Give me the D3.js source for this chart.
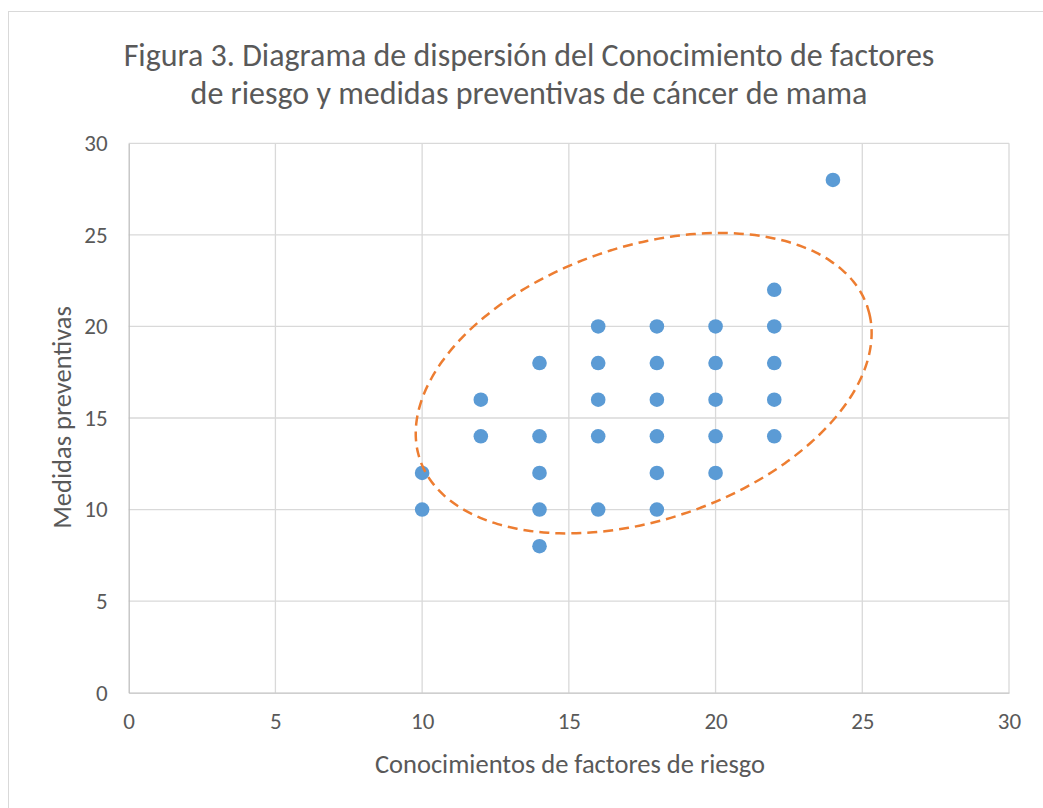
<!DOCTYPE html>
<html lang="es">
<head>
  <meta charset="UTF-8">
  <title>Figura 3. Diagrama de dispersión</title>
  <style>body{margin:0;padding:0;background:#fff;} svg{display:block;}</style>
  <script src="https://d3js.org/d3.v7.min.js"></script>
</head>
<body>
  <div id="chart"></div>
  <script>
    // puntos: conocimiento de factores de riesgo (x) vs medidas preventivas (y)
    const conocimiento = [10, 10, 12, 12, 14, 14, 14, 14, 14, 16, 16, 16, 16, 16,
      18, 18, 18, 18, 18, 18, 20, 20, 20, 20, 20, 22, 22, 22, 22, 22, 24];
    const medidas = [12, 10, 16, 14, 18, 14, 12, 10, 8, 20, 18, 16, 14, 10,
      20, 18, 16, 14, 12, 10, 20, 18, 16, 14, 12, 22, 20, 18, 16, 14, 28];
    const xTicks = [0, 5, 10, 15, 20, 25, 30];
    const yTicks = [0, 5, 10, 15, 20, 25, 30];
    const titleLines = ["Figura 3. Diagrama de dispersión del Conocimiento de factores",
      "de riesgo y medidas preventivas de cáncer de mama"];
    const xLabel = "Conocimientos de factores de riesgo";
    const yLabel = "Medidas preventivas";
    // elipse resaltada: centro y semidiámetros conjugados, en unidades de datos
    const elipseCentro = [17.55, 16.9];
    const elipseEjeU = [7.62, 4.19];
    const elipseEjeV = [1.51, -7.05];

    const width = 1043, height = 808;
    const font = "Carlito, Calibri, Lato, sans-serif";
    const textColor = "#595959";

    const svg = d3.select("#chart").append("svg")
      .attr("width", width)
      .attr("height", height);

    // chart border
    svg.append("rect")
      .attr("x", 8.5).attr("y", 11.5)
      .attr("width", 1100).attr("height", 900)
      .attr("fill", "#fff")
      .attr("stroke", "#d9d9d9");

    const x = d3.scaleLinear().domain([0, 30]).range([128.7, 1009]);
    const y = d3.scaleLinear().domain([0, 30]).range([692.7, 143.3]);

    // gridlines
    svg.append("g")
      .selectAll("line.vx")
      .data(xTicks.filter(d => d > 0))
      .join("line")
      .attr("x1", d => x(d)).attr("x2", d => x(d))
      .attr("y1", y(0)).attr("y2", y(30))
      .attr("stroke", "#d9d9d9").attr("stroke-width", 1.3);
    svg.append("g")
      .selectAll("line.hy")
      .data(yTicks.filter(d => d > 0))
      .join("line")
      .attr("x1", x(0)).attr("x2", x(30))
      .attr("y1", d => y(d)).attr("y2", d => y(d))
      .attr("stroke", "#d9d9d9").attr("stroke-width", 1.3);

    // axes
    const xAxis = svg.append("g")
      .attr("transform", `translate(0,${y(0)})`)
      .call(d3.axisBottom(x).tickValues(xTicks).tickSize(0).tickPadding(22));
    const yAxis = svg.append("g")
      .attr("transform", `translate(${x(0)},0)`)
      .call(d3.axisLeft(y).tickValues(yTicks).tickSize(0).tickPadding(21));
    [xAxis, yAxis].forEach(g => {
      g.select(".domain").attr("stroke", "#bfbfbf").attr("stroke-width", 1.3);
      g.selectAll("text")
        .attr("fill", textColor)
        .style("font-family", font)
        .style("font-size", "23px");
    });
    xAxis.selectAll("text").attr("dy", "0.62em");

    // title
    svg.append("g")
      .selectAll("text")
      .data(titleLines)
      .join("text")
      .attr("x", 529)
      .attr("y", (d, i) => 66 + i * 38)
      .attr("text-anchor", "middle")
      .attr("fill", textColor)
      .style("font-family", font)
      .style("font-size", "32px")
      .text(d => d);

    // axis titles
    svg.append("text")
      .attr("x", 570).attr("y", 773)
      .attr("text-anchor", "middle")
      .attr("fill", textColor)
      .style("font-family", font)
      .style("font-size", "26.5px")
      .text(xLabel);
    svg.append("text")
      .attr("transform", `translate(71,${(307 + 528) / 2}) rotate(-90)`)
      .attr("text-anchor", "middle")
      .attr("fill", textColor)
      .style("font-family", font)
      .style("font-size", "26.5px")
      .text(yLabel);

    // points
    svg.append("g")
      .selectAll("circle")
      .data(conocimiento.map((c, i) => [c, medidas[i]]))
      .join("circle")
      .attr("cx", d => x(d[0]))
      .attr("cy", d => y(d[1]))
      .attr("r", 7.3)
      .attr("fill", "#5b9bd5");

    // dashed ellipse
    const ts = d3.range(0, 361, 3).map(a => a * Math.PI / 180);
    const elipse = ts.map(t => [
      elipseCentro[0] + elipseEjeU[0] * Math.cos(t) + elipseEjeV[0] * Math.sin(t),
      elipseCentro[1] + elipseEjeU[1] * Math.cos(t) + elipseEjeV[1] * Math.sin(t)
    ]);
    svg.append("path")
      .datum(elipse)
      .attr("d", d3.line().x(d => x(d[0])).y(d => y(d[1])).curve(d3.curveCardinalClosed))
      .attr("fill", "none")
      .attr("stroke", "#ed7d31")
      .attr("stroke-width", 2.5)
      .attr("stroke-dasharray", "10,6");
  </script>
</body>
</html>
